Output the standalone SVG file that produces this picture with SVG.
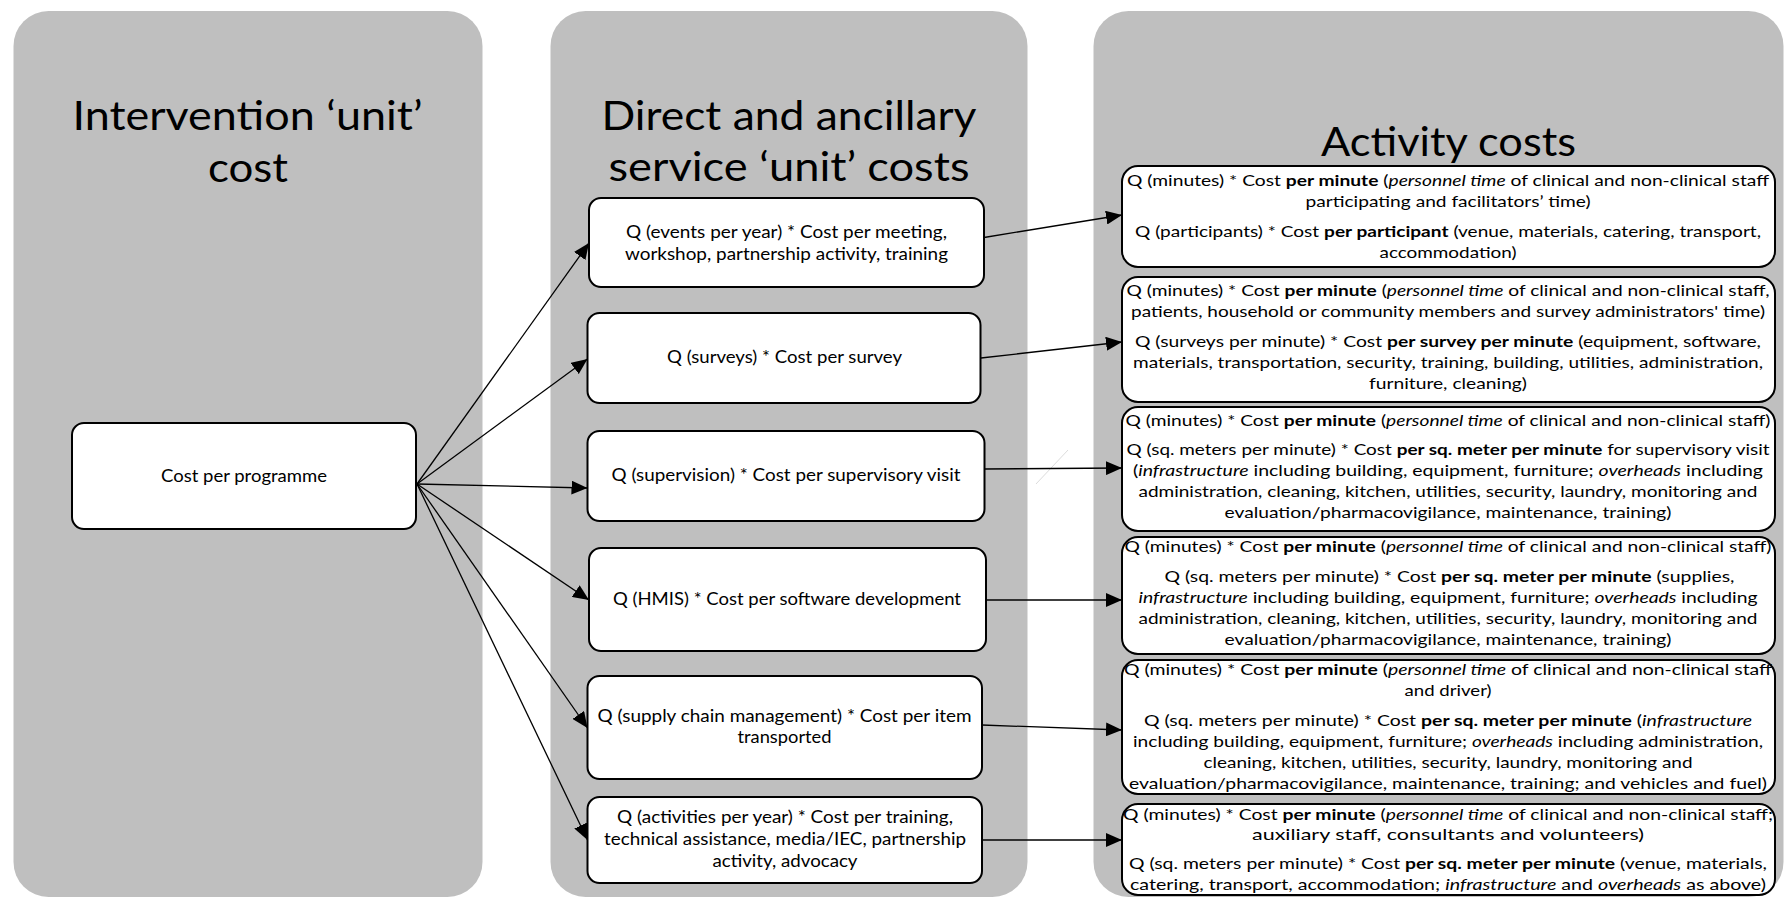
<svg xmlns="http://www.w3.org/2000/svg" width="1784" height="897" viewBox="0 0 1784 897">
<defs>
<style>
.panel{fill:#bfbfbf}
.box{fill:#fff;stroke:#000;stroke-width:2}
text{font-family:Lato,"Liberation Sans",sans-serif;fill:#000;text-anchor:middle}
.title{font-size:40px}
.mid{font-size:16.5px}
.act{font-size:16px}
.b{font-weight:bold}
.i{font-style:italic}
.conn line{stroke:#000;stroke-width:1.3;marker-end:url(#arrow)}
</style>
<marker id="arrow" viewBox="0 0 16 14" refX="16" refY="7" markerWidth="16" markerHeight="14" markerUnits="userSpaceOnUse" orient="auto">
<path d="M0,0 L16,7 L0,14 Z" fill="#000"/>
</marker>
</defs>
<rect width="1784" height="897" fill="#fff"/>

<g id="panel-intervention">
<rect class="panel" x="13.5" y="11" width="469" height="886" rx="35" ry="35"/>
<text class="title" x="247.5" y="130" textLength="350" lengthAdjust="spacingAndGlyphs">Intervention ‘unit’</text>
<text class="title" x="248" y="182" textLength="80" lengthAdjust="spacingAndGlyphs">cost</text>
</g>
<g id="panel-service">
<rect class="panel" x="550.5" y="11" width="477" height="886" rx="35" ry="35"/>
<text class="title" x="789" y="130" textLength="375" lengthAdjust="spacingAndGlyphs">Direct and ancillary</text>
<text class="title" x="789" y="181" textLength="361" lengthAdjust="spacingAndGlyphs">service ‘unit’ costs</text>
</g>
<g id="panel-activity">
<rect class="panel" x="1093.5" y="11" width="690" height="886" rx="35" ry="35"/>
<text class="title" x="1448.5" y="156" textLength="255" lengthAdjust="spacingAndGlyphs">Activity costs</text>
</g>

<line x1="1036" y1="484" x2="1068" y2="450" stroke="#dcdcdc" stroke-width="1"/>

<g id="programme">
<rect class="box" x="72" y="423" width="344" height="106" rx="12"/>
<text class="mid" x="244" y="482" textLength="166" lengthAdjust="spacingAndGlyphs">Cost per programme</text>
</g>

<g id="svc-events">
<rect class="box" x="589" y="198" width="395" height="89" rx="12"/>
<text class="mid" x="786.5" y="238" textLength="321" lengthAdjust="spacingAndGlyphs">Q (events per year) * Cost per meeting,</text>
<text class="mid" x="786.5" y="260" textLength="323" lengthAdjust="spacingAndGlyphs">workshop, partnership activity, training</text>
</g>
<g id="svc-surveys">
<rect class="box" x="587.5" y="313" width="393" height="90" rx="12"/>
<text class="mid" x="784.5" y="363" textLength="235" lengthAdjust="spacingAndGlyphs">Q (surveys) * Cost per survey</text>
</g>
<g id="svc-supervision">
<rect class="box" x="587.5" y="431" width="397" height="90" rx="12"/>
<text class="mid" x="786" y="481" textLength="349" lengthAdjust="spacingAndGlyphs">Q (supervision) * Cost per supervisory visit</text>
</g>
<g id="svc-hmis">
<rect class="box" x="589" y="548" width="397" height="103" rx="12"/>
<text class="mid" x="787" y="605" textLength="348" lengthAdjust="spacingAndGlyphs">Q (HMIS) * Cost per software development</text>
</g>
<g id="svc-supply">
<rect class="box" x="587.5" y="676" width="394.5" height="103" rx="12"/>
<text class="mid" x="784.5" y="722" textLength="374" lengthAdjust="spacingAndGlyphs">Q (supply chain management) * Cost per item</text>
<text class="mid" x="784.5" y="743" textLength="94" lengthAdjust="spacingAndGlyphs">transported</text>
</g>
<g id="svc-activities">
<rect class="box" x="587.5" y="797" width="394.5" height="86" rx="12"/>
<text class="mid" x="785" y="823" textLength="336" lengthAdjust="spacingAndGlyphs">Q (activities per year) * Cost per training,</text>
<text class="mid" x="785" y="845" textLength="362" lengthAdjust="spacingAndGlyphs">technical assistance, media/IEC, partnership</text>
<text class="mid" x="785" y="867" textLength="145" lengthAdjust="spacingAndGlyphs">activity, advocacy</text>
</g>

<g id="act-events">
<rect class="box" x="1122" y="166" width="653" height="101" rx="16"/>
<text class="act" x="1448" y="186" textLength="642" lengthAdjust="spacingAndGlyphs">Q (minutes) * Cost <tspan class="b">per minute</tspan> (<tspan class="i">personnel time</tspan> of clinical and non-clinical staff</text>
<text class="act" x="1448" y="207" textLength="285" lengthAdjust="spacingAndGlyphs">participating and facilitators’ time)</text>
<text class="act" x="1448" y="237" textLength="626" lengthAdjust="spacingAndGlyphs">Q (participants) * Cost <tspan class="b">per participant</tspan> (venue, materials, catering, transport,</text>
<text class="act" x="1448" y="258" textLength="137" lengthAdjust="spacingAndGlyphs">accommodation)</text>
</g>
<g id="act-surveys">
<rect class="box" x="1122" y="277" width="653" height="125" rx="16"/>
<text class="act" x="1448" y="296" textLength="643" lengthAdjust="spacingAndGlyphs">Q (minutes) * Cost <tspan class="b">per minute</tspan> (<tspan class="i">personnel time</tspan> of clinical and non-clinical staff,</text>
<text class="act" x="1448" y="317" textLength="634" lengthAdjust="spacingAndGlyphs">patients, household or community members and survey administrators' time)</text>
<text class="act" x="1448" y="347" textLength="626" lengthAdjust="spacingAndGlyphs">Q (surveys per minute) * Cost <tspan class="b">per survey per minute</tspan> (equipment, software,</text>
<text class="act" x="1448" y="368" textLength="630" lengthAdjust="spacingAndGlyphs">materials, transportation, security, training, building, utilities, administration,</text>
<text class="act" x="1448" y="389" textLength="158" lengthAdjust="spacingAndGlyphs">furniture, cleaning)</text>
</g>
<g id="act-supervision">
<rect class="box" x="1122" y="407" width="653" height="124" rx="16"/>
<text class="act" x="1448" y="426" textLength="645" lengthAdjust="spacingAndGlyphs">Q (minutes) * Cost <tspan class="b">per minute</tspan> (<tspan class="i">personnel time</tspan> of clinical and non-clinical staff)</text>
<text class="act" x="1448" y="455" textLength="643" lengthAdjust="spacingAndGlyphs">Q (sq. meters per minute) * Cost <tspan class="b">per sq. meter per minute</tspan> for supervisory visit</text>
<text class="act" x="1448" y="476" textLength="630" lengthAdjust="spacingAndGlyphs">(<tspan class="i">infrastructure</tspan> including building, equipment, furniture; <tspan class="i">overheads</tspan> including</text>
<text class="act" x="1448" y="497" textLength="619" lengthAdjust="spacingAndGlyphs">administration, cleaning, kitchen, utilities, security, laundry, monitoring and</text>
<text class="act" x="1448" y="518" textLength="447" lengthAdjust="spacingAndGlyphs">evaluation/pharmacovigilance, maintenance, training)</text>
</g>
<g id="act-hmis">
<rect class="box" x="1122" y="537" width="653" height="117" rx="16"/>
<text class="act" x="1448" y="552" textLength="647" lengthAdjust="spacingAndGlyphs">Q (minutes) * Cost <tspan class="b">per minute</tspan> (<tspan class="i">personnel time</tspan> of clinical and non-clinical staff)</text>
<text class="act" x="1449.5" y="582" textLength="570" lengthAdjust="spacingAndGlyphs">Q (sq. meters per minute) * Cost <tspan class="b">per sq. meter per minute</tspan> (supplies,</text>
<text class="act" x="1448" y="603" textLength="619" lengthAdjust="spacingAndGlyphs"><tspan class="i">infrastructure</tspan> including building, equipment, furniture; <tspan class="i">overheads</tspan> including</text>
<text class="act" x="1448" y="624" textLength="619" lengthAdjust="spacingAndGlyphs">administration, cleaning, kitchen, utilities, security, laundry, monitoring and</text>
<text class="act" x="1448" y="645" textLength="447" lengthAdjust="spacingAndGlyphs">evaluation/pharmacovigilance, maintenance, training)</text>
</g>
<g id="act-supply">
<rect class="box" x="1122" y="660" width="653" height="134" rx="16"/>
<text class="act" x="1448" y="675" textLength="648" lengthAdjust="spacingAndGlyphs">Q (minutes) * Cost <tspan class="b">per minute</tspan> (<tspan class="i">personnel time</tspan> of clinical and non-clinical staff</text>
<text class="act" x="1448" y="696" textLength="87" lengthAdjust="spacingAndGlyphs">and driver)</text>
<text class="act" x="1448" y="726" textLength="608" lengthAdjust="spacingAndGlyphs">Q (sq. meters per minute) * Cost <tspan class="b">per sq. meter per minute</tspan> (<tspan class="i">infrastructure</tspan></text>
<text class="act" x="1448" y="747" textLength="630" lengthAdjust="spacingAndGlyphs">including building, equipment, furniture; <tspan class="i">overheads</tspan> including administration,</text>
<text class="act" x="1448" y="768" textLength="489" lengthAdjust="spacingAndGlyphs">cleaning, kitchen, utilities, security, laundry, monitoring and</text>
<text class="act" x="1448" y="789" textLength="638" lengthAdjust="spacingAndGlyphs">evaluation/pharmacovigilance, maintenance, training; and vehicles and fuel)</text>
</g>
<g id="act-activities">
<rect class="box" x="1122" y="804" width="653" height="91" rx="16"/>
<text class="act" x="1448" y="820" textLength="650" lengthAdjust="spacingAndGlyphs">Q (minutes) * Cost <tspan class="b">per minute</tspan> (<tspan class="i">personnel time</tspan> of clinical and non-clinical staff;</text>
<text class="act" x="1448" y="840" textLength="392" lengthAdjust="spacingAndGlyphs">auxiliary staff, consultants and volunteers)</text>
<text class="act" x="1448" y="869" textLength="638" lengthAdjust="spacingAndGlyphs">Q (sq. meters per minute) * Cost <tspan class="b">per sq. meter per minute</tspan> (venue, materials,</text>
<text class="act" x="1448" y="890" textLength="636" lengthAdjust="spacingAndGlyphs">catering, transport, accommodation; <tspan class="i">infrastructure</tspan> and <tspan class="i">overheads</tspan> as above)</text>
</g>

<g id="connectors" class="conn">
<line x1="417" y1="484" x2="589" y2="243"/>
<line x1="417" y1="484" x2="587.5" y2="359"/>
<line x1="417" y1="484" x2="587.5" y2="488"/>
<line x1="417" y1="484" x2="589" y2="600"/>
<line x1="417" y1="484" x2="587.5" y2="728"/>
<line x1="417" y1="484" x2="587.5" y2="840"/>
<line x1="984" y1="237.5" x2="1122" y2="215"/>
<line x1="981" y1="358" x2="1122" y2="342"/>
<line x1="984.5" y1="469" x2="1122" y2="468"/>
<line x1="986" y1="600" x2="1122" y2="600"/>
<line x1="982" y1="725" x2="1122" y2="730"/>
<line x1="982" y1="840" x2="1122" y2="840"/>
</g>
</svg>
